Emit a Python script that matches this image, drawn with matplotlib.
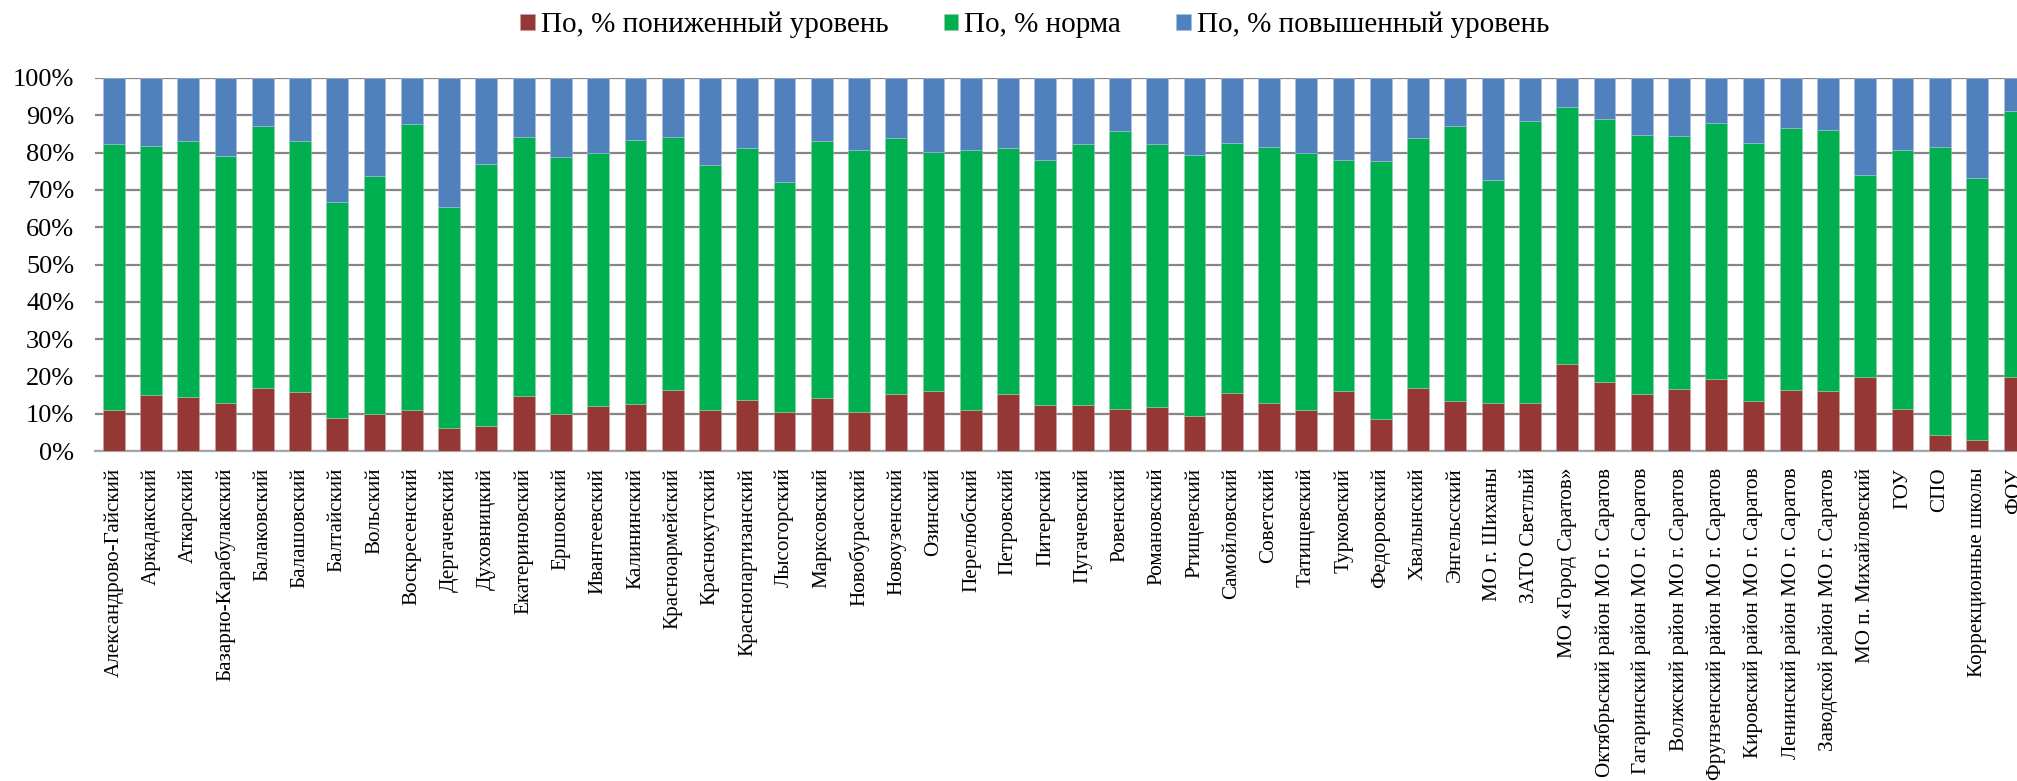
import matplotlib
matplotlib.use("Agg")
import matplotlib.pyplot as plt
import numpy as np

plt.rcParams['font.family'] = ['Liberation Serif', 'DejaVu Serif']

categories = [
    "Александрово-Гайский", "Аркадакский", "Аткарский", "Базарно-Карабулакский",
    "Балаковский", "Балашовский", "Балтайский", "Вольский", "Воскресенский",
    "Дергачевский", "Духовницкий", "Екатериновский", "Ершовский", "Ивантеевский",
    "Калининский", "Красноармейский", "Краснокутский", "Краснопартизанский",
    "Лысогорский", "Марксовский", "Новобурасский", "Новоузенский", "Озинский",
    "Перелюбский", "Петровский", "Питерский", "Пугачевский", "Ровенский",
    "Романовский", "Ртищевский", "Самойловский", "Советский", "Татищевский",
    "Турковский", "Федоровский", "Хвалынский", "Энгельсский", "МО г. Шиханы",
    "ЗАТО Светлый", "МО «Город Саратов»", "Октябрьский район МО г. Саратов",
    "Гагаринский район МО г. Саратов", "Волжский район МО г. Саратов",
    "Фрунзенский район МО г. Саратов", "Кировский район МО г. Саратов",
    "Ленинский район МО г. Саратов", "Заводской район МО г. Саратов",
    "МО п. Михайловский", "ГОУ", "СПО", "Коррекционные школы", "ФОУ",
]

# % пониженный уровень
low = [10.9, 14.9, 14.4, 12.8, 16.8, 15.8, 8.9, 10.0, 11.1, 6.1, 6.7, 14.8, 10.0,
       12.0, 12.7, 16.3, 11.1, 13.6, 10.4, 14.3, 10.4, 15.2, 16.0, 11.1, 15.2, 12.4,
       12.4, 11.2, 11.8, 9.4, 15.6, 12.8, 11.1, 16.0, 8.7, 17.0, 13.5, 12.9, 12.8,
       23.4, 18.5, 15.4, 16.7, 19.3, 13.5, 16.4, 16.1, 19.8, 11.2, 4.4, 3.0, 19.8]
# % норма
norm = [71.5, 66.8, 68.8, 66.2, 70.2, 67.2, 57.9, 63.6, 76.7, 59.3, 70.2, 69.5, 68.7,
        68.0, 70.8, 67.9, 65.6, 67.5, 61.8, 68.9, 70.2, 68.8, 64.2, 69.5, 66.1, 65.5,
        70.0, 74.7, 70.4, 70.0, 67.1, 68.8, 68.8, 62.1, 69.0, 66.8, 73.5, 59.7, 75.8,
        68.7, 70.6, 69.4, 67.8, 68.7, 69.2, 70.1, 69.9, 54.3, 69.6, 77.2, 70.1, 71.4]
# % повышенный уровень
high = [17.6, 18.3, 16.8, 21.0, 13.0, 17.0, 33.2, 26.4, 12.2, 34.6, 23.1, 15.7, 21.3,
        20.0, 16.5, 15.8, 23.3, 18.9, 27.8, 16.8, 19.4, 16.0, 19.8, 19.4, 18.7, 22.1,
        17.6, 14.1, 17.8, 20.6, 17.3, 18.4, 20.1, 21.9, 22.3, 16.2, 13.0, 27.4, 11.4,
        7.9, 10.9, 15.2, 15.5, 12.0, 17.3, 13.5, 14.0, 25.9, 19.2, 18.4, 26.9, 8.8]

series_names = ["По, % пониженный уровень", "По, % норма", "По, % повышенный уровень"]
colors = ["#953735", "#00B050", "#4F81BD"]
yticks = [0, 10, 20, 30, 40, 50, 60, 70, 80, 90, 100]
ytick_labels = [f"{v}%" for v in yticks]

W, H = 2017, 781
fig = plt.figure(figsize=(W / 100, H / 100), dpi=100)
n = len(categories)
left_px, step_px = 95, 37.27
ax = fig.add_axes([left_px / W, (H - 451) / H, n * step_px / W, (451 - 78) / H])

x = np.arange(n)
bw = 0.585
low_a, norm_a, high_a = np.array(low), np.array(norm), np.array(high)
b1 = ax.bar(x, low_a, bw, color=colors[0], label=series_names[0], zorder=3,
            edgecolor="#c9a5a4", linewidth=0.4)
b2 = ax.bar(x, norm_a, bw, bottom=low_a, color=colors[1], label=series_names[1], zorder=3,
            edgecolor="#8fd0a6", linewidth=0.4)
b3 = ax.bar(x, high_a, bw, bottom=low_a + norm_a, color=colors[2], label=series_names[2],
            zorder=3, edgecolor="#a9c0de", linewidth=0.4)

ax.set_xlim(-0.5, n - 0.5)
ax.set_ylim(0, 100)
ax.set_yticks(yticks)
ax.set_yticklabels(ytick_labels, fontsize=19)
ax.set_xticks(x)
ax.set_xticklabels(categories, rotation=90, fontsize=15.2, va="top", ha="center")
ax.tick_params(axis="both", length=0)
ax.tick_params(axis="y", pad=15)
ax.tick_params(axis="x", pad=12)
ax.yaxis.grid(True, color="#868686", linewidth=1.6, zorder=0)
ax.set_axisbelow(True)
for s in ["left", "right", "top"]:
    ax.spines[s].set_visible(False)
ax.spines["bottom"].set_color("#a6a6a6")
ax.spines["bottom"].set_linewidth(1.6)

fig.legend(handles=[b1, b2, b3], labels=series_names, loc="center",
           bbox_to_anchor=(0.513, 1 - 25 / H), ncol=3, frameon=False, fontsize=21,
           handlelength=0.5, handleheight=0.5, handletextpad=0.2, columnspacing=1.9)

fig.savefig("out.png", dpi=100)
